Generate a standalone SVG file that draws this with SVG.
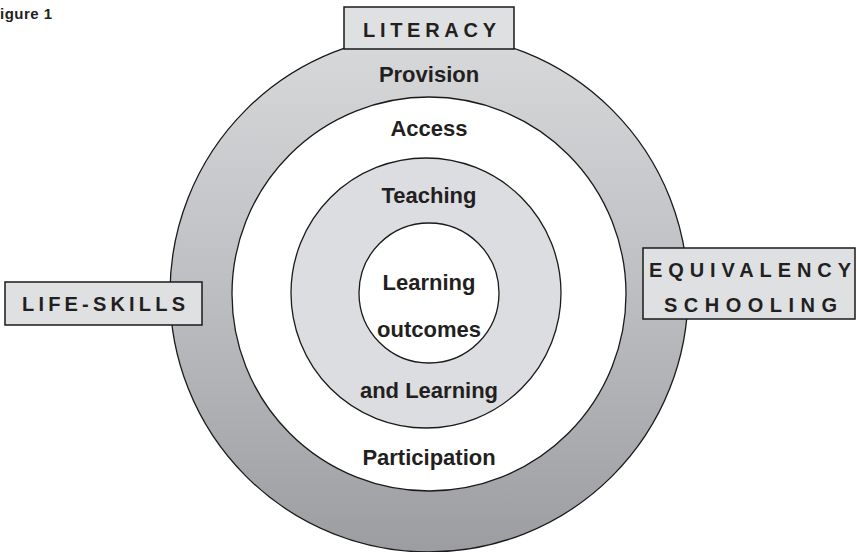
<svg xmlns="http://www.w3.org/2000/svg" width="857" height="552" viewBox="0 0 857 552">
<style>
.ring{stroke:#1a1a1a;stroke-width:1.3}
.box{fill:#dfe0e2;stroke:#1a1a1a;stroke-width:1.5}
.cap{font-family:"Liberation Sans",Arial,sans-serif;font-weight:bold;font-size:20px;fill:#231f20}
.lbl{font-family:"Liberation Sans",Arial,sans-serif;font-weight:bold;font-size:22px;fill:#231f20;text-anchor:middle}
.fig{font-family:"Liberation Sans",Arial,sans-serif;font-weight:bold;font-size:15px;fill:#231f20}
</style>
<defs>
<linearGradient id="gOuter" x1="0" y1="0" x2="0" y2="1">
<stop offset="0" stop-color="#d8d9db"/>
<stop offset="0.5" stop-color="#bdbec1"/>
<stop offset="1" stop-color="#9c9da1"/>
</linearGradient>
</defs>
<rect width="857" height="552" fill="#ffffff"/>
<text class="fig" x="0" y="19" textLength="52" lengthAdjust="spacing">igure 1</text>
<g id="provision-ring">
<circle class="ring" cx="429" cy="293" r="259" fill="url(#gOuter)"/>
<text class="lbl" x="429" y="82">Provision</text>
</g>
<g id="access-participation-ring">
<circle class="ring" cx="429" cy="294" r="197" fill="#ffffff"/>
<text class="lbl" x="429" y="136">Access</text>
<text class="lbl" x="429" y="465">Participation</text>
</g>
<g id="teaching-learning-ring">
<circle class="ring" cx="426" cy="293" r="135" fill="#dcdde0"/>
<text class="lbl" x="429" y="203">Teaching</text>
<text class="lbl" x="429" y="398">and Learning</text>
</g>
<g id="learning-outcomes">
<circle class="ring" cx="429" cy="293" r="70" fill="#ffffff"/>
<text class="lbl" x="429" y="290">Learning</text>
<text class="lbl" x="429" y="337">outcomes</text>
</g>
<g id="literacy">
<rect class="box" x="344" y="7" width="170" height="42"/>
<text class="cap" x="363" y="37" textLength="133" lengthAdjust="spacing">LITERACY</text>
</g>
<g id="life-skills">
<rect class="box" x="5" y="282" width="197" height="43"/>
<text class="cap" x="22" y="311" textLength="163" lengthAdjust="spacing">LIFE-SKILLS</text>
</g>
<g id="equivalency-schooling">
<rect class="box" x="643" y="248" width="212" height="71"/>
<text class="cap" x="649" y="277" textLength="202" lengthAdjust="spacing">EQUIVALENCY</text>
<text class="cap" x="664" y="312" textLength="173" lengthAdjust="spacing">SCHOOLING</text>
</g>
<g id="connectors"/>
</svg>
